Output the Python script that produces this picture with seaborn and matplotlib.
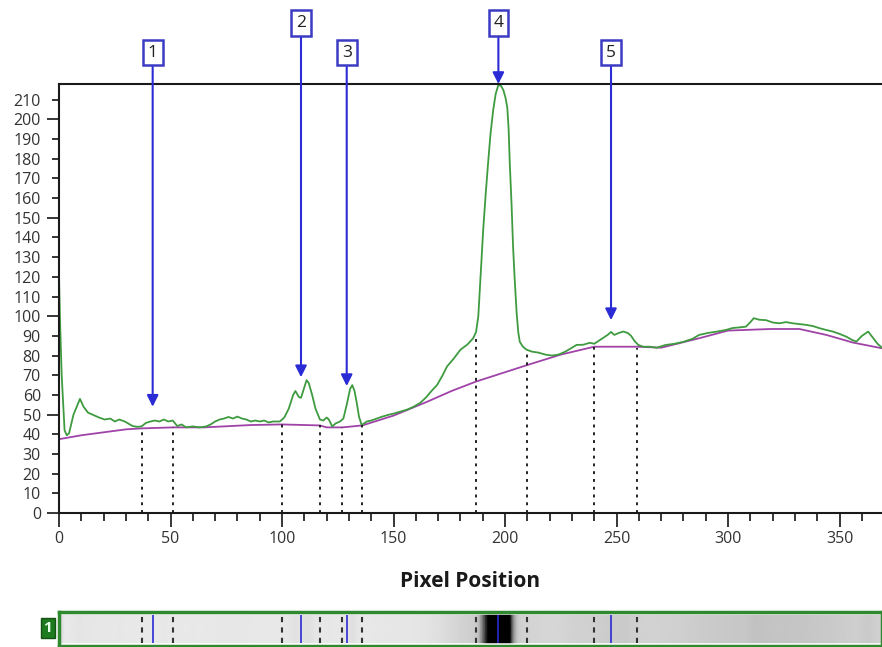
import matplotlib
matplotlib.use('Agg')
import matplotlib.pyplot as plt
from matplotlib.colors import LinearSegmentedColormap, PowerNorm
import numpy as np
import seaborn as sns

# lane profile
pos = [0, 0.4, 1.2, 2.5, 3.5, 4.5, 6.5, 9.4, 11, 13, 16, 18, 20.5, 23, 25, 27, 29.5, 31, 33, 35,
       37, 39, 41, 43, 45, 47, 49, 51, 53, 55, 57, 60, 63, 66, 68, 70, 72, 74, 76, 78,
       80, 82, 84, 86, 88, 90, 92, 94, 96, 99, 101, 103, 105, 106, 107.5, 108.5, 110, 111, 112, 113.5,
       115, 117, 118.5, 120, 121, 122.5, 124, 126, 127.5, 129, 130.5, 131.5, 132.5, 133.5, 134.5, 135.7, 138, 140, 142.5, 145,
       148, 150, 153, 156, 159, 162, 164.8, 167, 169.5, 172, 174, 177, 180, 183, 185.7, 187, 188, 189, 190.2, 191.3,
       192.4, 193.5, 194.7, 195.8, 197, 198.2, 199.2, 200.2, 201, 201.6, 202.1, 202.9, 203.6, 204.4, 205.2, 205.9, 206.6, 208, 209.6, 212,
       215, 218, 221, 224, 227, 230, 232, 235, 238, 240, 242, 244, 246, 247.5, 249, 251, 253, 255, 256.5, 258,
       259.7, 262, 265, 268, 272, 276, 280, 284, 287, 291, 295, 299, 302, 305, 308, 310, 311.5, 314, 317, 320,
       323, 326, 329, 332, 335, 338, 341, 344, 347, 350, 353, 355.5, 357.5, 360, 362.8, 365, 367, 369]
intensity = [121, 100, 70, 42, 39.5, 40.5, 50, 58, 54, 51, 49.5, 48.5, 47.5, 48, 46.5, 47.5, 46.5, 45.5, 44.2, 43.8,
             44, 45.8, 46.5, 47, 46.5, 47.5, 46.5, 47, 44.2, 45, 43.5, 44, 43.5, 44, 45, 46.5, 47.5, 48, 48.8, 48,
             49, 48, 47.5, 46.5, 47, 46.5, 47, 46, 46.5, 46.5, 48.5, 53, 60, 62, 59, 58.5, 64, 67.5, 66, 60,
             53, 47.5, 47, 48.5, 47.5, 44, 45.5, 46.5, 48, 55, 63, 65, 62, 56, 49, 44.7, 46.5, 47, 48, 49,
             50, 50.5, 51.5, 52.5, 54, 56, 59, 62, 65, 70, 74.5, 78.5, 83, 85.5, 88.8, 92, 100, 120, 144, 162,
             178, 193, 205, 213, 217.6, 217, 215, 211, 206, 195, 178, 157, 135, 117, 101.5, 92, 87, 84.5, 83, 82,
             81.5, 80.5, 80, 80.5, 82, 84, 85.4, 85.5, 86.5, 86, 87.5, 89, 90.5, 92, 90.5, 91.5, 92.2, 91.5, 90, 87.5,
             85.4, 84.5, 84.5, 84, 85.4, 86, 87, 88.5, 90.5, 91.5, 92.2, 93, 94, 94.3, 94.7, 97, 99, 98.2, 98, 96.8,
             96.4, 97, 96.4, 96, 95.6, 95, 93.9, 93, 92.2, 91, 89.6, 88, 87.1, 90, 92.2, 89, 86, 84]

# background (baseline) line
bg_pos = [0, 10, 20, 30, 37, 51, 65, 86, 100, 117, 120, 127, 136, 150, 165,
          176, 187, 210, 225, 240, 259, 270, 287, 300, 319, 332, 344, 356, 369]
bg_level = [37.5, 39.5, 41, 42.5, 43, 43.5, 43.5, 44.7, 45, 44.5, 43.5, 43.5, 44.5, 49.5, 56.5,
            62, 66.8, 75.2, 80.5, 84.5, 84.5, 84, 88.8, 92.7, 93.5, 93.5, 90.5, 86.6, 83.7]

# detected bands
peak_ids = ['1', '2', '3', '4', '5']
peak_pos = [42, 108.5, 129, 197, 247.5]
peak_tip = [54, 69, 64.5, 218, 98]
label_y = [234, 249, 234, 249, 234]

# band boundaries
bound_pos = [37, 51, 100, 117, 127, 136, 187, 210, 240, 259]
bound_top = [43, 43.5, 45, 44.5, 43.5, 44.5, 88.5, 82, 84.5, 84]

sns.set_style('white')
plt.rcParams['font.family'] = ['Open Sans', 'DejaVu Sans']

fig = plt.figure(figsize=(8.82, 6.47), dpi=100)
ax = fig.add_axes([59 / 882, 1 - 513 / 647, 1 - 59 / 882, (513 - 84) / 647])

sns.lineplot(x=bg_pos, y=bg_level, ax=ax, color='#a043a8', lw=1.3)
sns.lineplot(x=pos, y=intensity, ax=ax, color='#3f9b3f', lw=1.3)
ax.vlines(bound_pos, 0, bound_top, colors='#222222', linestyles=(0, (1.5, 2.5)), lw=1.4)

arrow_col = '#2b2bd6'
for pid, px, tip, ly in zip(peak_ids, peak_pos, peak_tip, label_y):
    ax.annotate(pid, xy=(px, tip), xytext=(px, ly), ha='center', va='center',
                fontsize=12.5, color='#222222', annotation_clip=False,
                bbox=dict(boxstyle='square,pad=0.28', fc='white', ec='#3b3bc4', lw=1.8),
                arrowprops=dict(arrowstyle='-|>', color=arrow_col, lw=1.5,
                                mutation_scale=17, shrinkA=0, shrinkB=0))

ax.set_xlim(0, 369)
ax.set_ylim(0, 218)

ax.set_xticks(range(0, 351, 50))
ax.set_xticks(range(0, 370, 10), minor=True)
y_major = [0, 50, 100, 150, 200]
y_minor = [v for v in range(0, 211, 10) if v not in y_major]
ax.set_yticks(y_major, labels=[str(v) for v in y_major])
ax.set_yticks(y_minor, labels=[str(v) for v in y_minor], minor=True)

ax.tick_params(axis='x', which='major', length=10, width=1.3, pad=3, labelsize=11.5,
               labelcolor='#333333', direction='out')
ax.tick_params(axis='x', which='minor', length=6, width=1.3, direction='out')
ax.tick_params(axis='y', which='major', length=8.5, width=1.3, pad=4.5, labelsize=11.5,
               labelcolor='#333333', direction='out')
ax.tick_params(axis='y', which='minor', length=5, width=1.3, pad=8, labelsize=11.5,
               labelcolor='#333333', direction='out')
ax.xaxis.set_ticks_position('bottom')
ax.yaxis.set_ticks_position('left')

for side in ['left', 'bottom', 'top']:
    ax.spines[side].set_color('#1a1a1a')
    ax.spines[side].set_linewidth(1.5)
ax.spines['right'].set_visible(False)

ax.set_xlabel('Pixel Position', fontsize=15, fontweight='bold', color='#1a1a1a', labelpad=17)
ax.set_ylabel('')

# gel lane strip under the plot
sax = fig.add_axes([59 / 882, 1 / 647, 1 - 59 / 882, 34 / 647])
sax.set_facecolor('white')
gel_cmap = LinearSegmentedColormap.from_list('gel', ['#ececec', '#000000'])
sax.pcolormesh(pos, [0, 1], np.vstack([intensity, intensity]), shading='gouraud',
               cmap=gel_cmap, norm=PowerNorm(gamma=3, vmin=0, vmax=175))
sax.vlines(bound_pos, 0, 1, colors='#333333', linestyles=(0, (2.5, 2.5)), lw=1.5)
sax.vlines(peak_pos, 0, 1, colors=arrow_col, lw=1.2)
sax.set_xlim(0, 369)
sax.set_ylim(-0.12, 1.12)
sax.set_xticks([])
sax.set_yticks([])
for sp in sax.spines.values():
    sp.set_visible(True)
    sp.set_color('#2f8a2f')
    sp.set_linewidth(2.5)

fig.text(48 / 882, 1 - 628 / 647, '1', ha='center', va='center', fontsize=11, color='#e8ffe8',
         fontweight='bold',
         bbox=dict(boxstyle='square,pad=0.2', fc='#1e7a1e', ec='#145214', lw=1))

fig.savefig('out.png', dpi=100)
